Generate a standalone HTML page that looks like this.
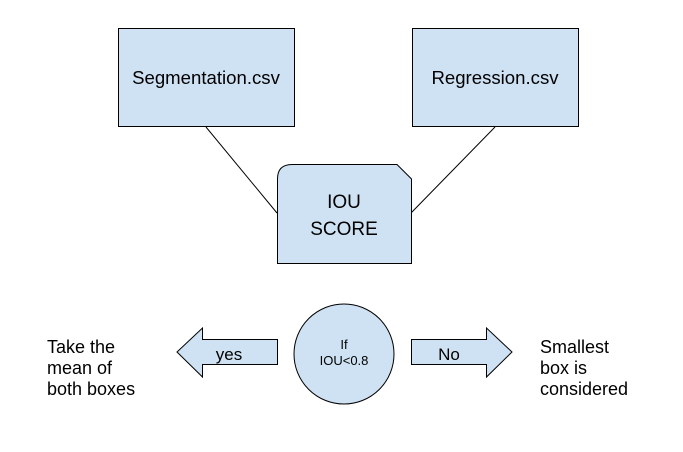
<!DOCTYPE html>
<html><head><style>body{margin:0;background:#fff}</style></head><body>
<svg width="683" height="447" xmlns="http://www.w3.org/2000/svg" font-family="Liberation Sans, Arial, sans-serif">
<rect width="683" height="447" fill="#fff"/>
<g fill="#cfe2f3" stroke="#000" stroke-width="1">
<line x1="206" y1="127" x2="277" y2="213"/>
<line x1="495" y1="127" x2="411" y2="213"/>
<rect x="118.5" y="28.5" width="176" height="98"/>
<rect x="412.5" y="28.5" width="166" height="98"/>
<path d="M277.5 179 Q277.5 164.5 292 164.5 L397 164.5 L411.5 179 L411.5 263.5 L277.5 263.5 Z"/>
<circle cx="344" cy="354" r="50"/>
<path d="M277.5 339.5 L202.5 339.5 L202.5 328 L177 352 L202.5 377 L202.5 364.5 L277.5 364.5 Z"/>
<path d="M411.5 339.5 L486.5 339.5 L486.5 328 L512 352 L486.5 377 L486.5 364.5 L411.5 364.5 Z"/>
</g>
<g fill="#000" text-anchor="middle" font-size="18.6">
<text x="206" y="84">Segmentation.csv</text>
<text x="495" y="84">Regression.csv</text>
<text x="344" y="208" font-size="19">IOU</text>
<text x="344" y="235" font-size="19">SCORE</text>
<text x="229" y="360" font-size="17">yes</text>
<text x="449" y="360" font-size="17">No</text>
<text x="344" y="349" font-size="13">If</text>
<text x="344" y="365" font-size="13">IOU&lt;0.8</text>
</g>
<g fill="#000" font-size="18">
<text x="47" y="353">Take the</text>
<text x="47" y="374">mean of</text>
<text x="47" y="395">both boxes</text>
<text x="540" y="353">Smallest</text>
<text x="540" y="374">box is</text>
<text x="540" y="395">considered</text>
</g>
</svg>
</body></html>
